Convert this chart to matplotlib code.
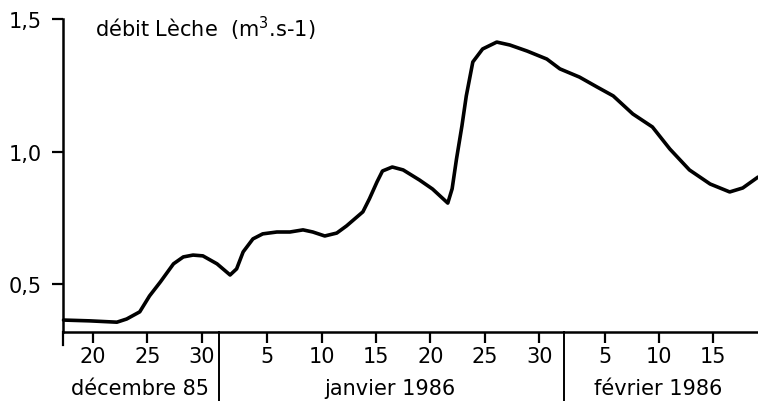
import numpy as np
import matplotlib.pyplot as plt
from matplotlib import transforms

# day index: days counted from 30 Nov 1985 (Dec d -> d, Jan d -> 31+d, Feb d -> 62+d)
days = [17.3, 19.7, 22.2, 23.1, 24.3, 25.2, 26.2, 27.4, 28.3, 29.2, 30.1, 31.4,
        32.6, 33.2, 33.8, 34.7, 35.6, 36.9, 38.1, 39.3, 40.2, 41.3, 42.4, 43.3,
        44.8, 45.4, 46.1, 46.6, 47.5, 48.5, 50.0, 51.2, 52.6, 53.0, 53.4, 53.9,
        54.3, 54.9, 55.8, 57.1, 58.3, 59.9, 61.7, 62.9, 64.7, 66.3, 67.8, 69.6,
        71.4, 73.0, 74.8, 76.7, 78.5, 79.7, 81.1]
debit = [0.365, 0.362, 0.357, 0.369, 0.396, 0.456, 0.509, 0.577, 0.603, 0.610,
         0.607, 0.577, 0.535, 0.558, 0.622, 0.671, 0.690, 0.697, 0.697, 0.705,
         0.697, 0.682, 0.693, 0.720, 0.773, 0.822, 0.886, 0.927, 0.942, 0.931,
         0.893, 0.859, 0.806, 0.860, 0.972, 1.097, 1.210, 1.338, 1.387, 1.413,
         1.402, 1.379, 1.349, 1.312, 1.281, 1.244, 1.210, 1.142, 1.093, 1.010,
         0.931, 0.878, 0.848, 0.863, 0.904]

tick_days = [20, 25, 30, 36, 41, 46, 51, 56, 61, 67, 72, 77]
tick_labels = ['20', '25', '30', '5', '10', '15', '20', '25', '30', '5', '10', '15']
y_ticks = [0.5, 1.0, 1.5]
y_labels = ['0,5', '1,0', '1,5']
months = ['décembre 85', 'janvier 1986', 'février 1986']
month_centers = [24.3, 47.3, 71.9]
month_breaks = [31.6, 63.3]

W, H = 758, 402
fig = plt.figure(figsize=(W / 100, H / 100), dpi=100)
ax = fig.add_axes([63 / W, (H - 333) / H, (W - 63) / W, (333 - 20) / H])

ax.plot(days, debit, color='black', lw=2.6, solid_capstyle='round',
        solid_joinstyle='round', clip_on=False)

ax.set_xlim(17.25, 81.1)
ax.set_ylim(0.32, 1.5)

for s in ['top', 'right']:
    ax.spines[s].set_visible(False)
for s in ['left', 'bottom']:
    ax.spines[s].set_linewidth(1.8)

ax.set_xticks(tick_days)
ax.set_xticklabels(tick_labels)
ax.set_yticks(y_ticks)
ax.set_yticklabels(y_labels)
ax.tick_params(axis='x', direction='out', length=8, width=1.6, pad=2, labelsize=15)
ax.tick_params(axis='y', direction='out', length=8, width=1.6, pad=7, labelsize=15)

# month separators and names below the day numbers
trans = transforms.blended_transform_factory(ax.transData, ax.transAxes)
for b in month_breaks:
    ax.plot([b, b], [0, -0.23], color='black', lw=1.4, transform=trans, clip_on=False)
ax.plot([17.25, 17.25], [0, -0.04], color='black', lw=1.6, transform=trans, clip_on=False)
for name, c in zip(months, month_centers):
    ax.text(c, -0.18, name, transform=trans, ha='center', va='center', fontsize=15)

fig.text(95 / W, 1 - 29 / H, 'débit Lèche  (m$^{3}$.s-1)', ha='left', va='center', fontsize=15)

fig.savefig('out.png', dpi=100)
